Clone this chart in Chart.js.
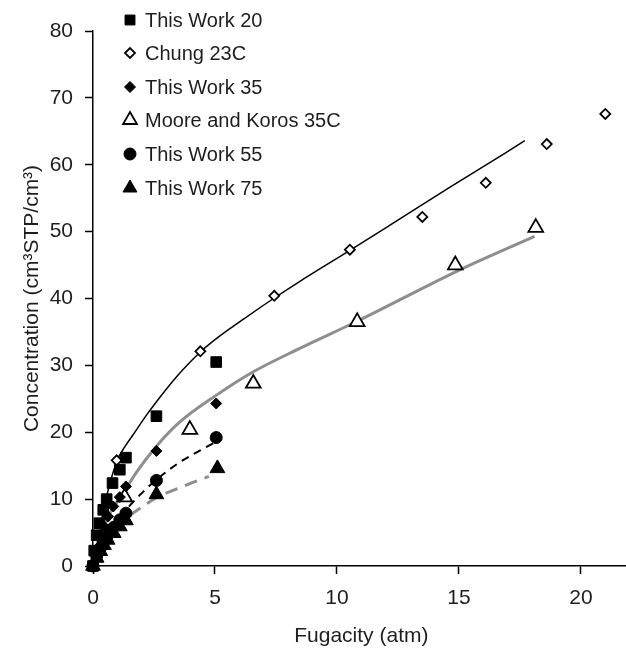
<!DOCTYPE html>
<html>
<head>
<meta charset="utf-8">
<script src="https://cdn.jsdelivr.net/npm/chart.js@4.4.1/dist/chart.umd.min.js"></script>
<style>
  html, body { margin: 0; padding: 0; background: #fff; overflow: hidden; width: 626px; height: 653px; }
  canvas { display: block; }
</style>
</head>
<body>
<canvas id="c" width="640" height="653"></canvas>
<script>
// ---- Data ----
const xTicks = [0, 5, 10, 15, 20];
const yTicks = [0, 10, 20, 30, 40, 50, 60, 70, 80];

const tw20X = [0, 0.05, 0.15, 0.26, 0.42, 0.56, 0.80, 1.10, 1.35, 2.6, 5.05];
const tw20Y = [0, 2.3, 4.6, 6.4, 8.4, 10.0, 12.4, 14.4, 16.2, 22.4, 30.5];

const chungX = [0.97, 4.4, 7.43, 10.53, 13.5, 16.1, 18.6, 21.0];
const chungY = [15.8, 32.1, 40.4, 47.3, 52.2, 57.3, 63.1, 67.6];

const tw35X = [0, 0.15, 0.31, 0.46, 0.62, 0.83, 1.10, 1.35, 2.6, 5.05];
const tw35Y = [0, 2.4, 4.4, 5.9, 7.4, 8.9, 10.3, 11.9, 17.2, 24.3];

const mooreX = [1.3, 3.97, 6.57, 10.83, 14.85, 18.15];
const mooreY = [10.3, 20.4, 27.3, 36.5, 45.0, 50.6];

const tw55X = [0, 0.15, 0.30, 0.45, 0.60, 0.85, 1.10, 1.35, 2.6, 5.05];
const tw55Y = [0, 1.5, 2.7, 3.7, 4.6, 5.8, 6.9, 7.9, 12.8, 19.2];

const tw75X = [0, 0.15, 0.30, 0.45, 0.60, 0.85, 1.10, 1.35, 2.6, 5.1];
const tw75Y = [0, 1.2, 2.2, 3.1, 3.9, 4.9, 5.9, 6.8, 10.7, 14.6];

// fitted curves
const fitChungX = [0, 0.5, 0.97, 1.3, 1.6, 2.2, 2.8, 3.4, 4.4, 5.2, 6.2, 7.4, 8.45, 10.53, 12.53, 14.57, 16.88, 17.7];
const fitChungY = [0, 9.5, 15.6, 17.8, 19.4, 22.6, 25.5, 28.2, 32.0, 34.4, 37.0, 40.0, 42.5, 47.2, 51.8, 56.5, 61.7, 63.6];

const fit35X = [0, 0.56, 1.24, 1.78, 2.6, 3.55, 5.0, 6.5, 8.45, 10.83, 15.1, 18.1];
const fit35Y = [0, 6.9, 10.9, 14.0, 17.9, 21.5, 25.4, 28.9, 32.5, 36.6, 44.4, 49.3];

const fit55X = [0, 0.3, 0.6, 1.0, 1.4, 2.0, 2.6, 3.55, 4.95];
const fit55Y = [0, 2.8, 4.8, 6.9, 8.6, 10.9, 12.9, 15.5, 18.4];

const fit75X = [0, 0.3, 0.7, 1.37, 2.0, 2.6, 3.9, 4.75];
const fit75Y = [0, 2.3, 4.4, 7.1, 8.8, 10.2, 12.2, 13.4];

const legendLabels = ['This Work 20', 'Chung 23C', 'This Work 35', 'Moore and Koros 35C', 'This Work 55', 'This Work 75'];

// ---- helpers ----
const pts = (xs, ys) => xs.map((x, i) => ({ x: x, y: ys[i] }));
const FONT = "'Liberation Sans', Arial, Helvetica, sans-serif";
const TXT = '#1e1e1e';

function markerDS(label, xs, ys, style, radius, filled) {
  return {
    label: label,
    data: pts(xs, ys),
    showLine: false,
    pointStyle: style,
    pointRadius: radius,
    pointHoverRadius: radius,
    pointBackgroundColor: filled ? '#000' : '#fff',
    pointBorderColor: '#000',
    pointBorderWidth: filled ? 1 : 1.8,
    order: 0,
    clip: false
  };
}
function lineDS(label, xs, ys, color, width, dash) {
  return {
    label: label,
    data: pts(xs, ys),
    showLine: true,
    pointRadius: 0,
    pointHoverRadius: 0,
    borderColor: color,
    borderWidth: width,
    borderDash: dash,
    cubicInterpolationMode: 'monotone',
    fill: false,
    order: 10,
    clip: false
  };
}

const markerSets = [
  markerDS(legendLabels[0], tw20X, tw20Y, 'rect', 7.5, true),
  markerDS(legendLabels[1], chungX, chungY, 'rectRot', 5, false),
  markerDS(legendLabels[2], tw35X, tw35Y, 'rectRot', 5.5, true),
  markerDS(legendLabels[3], mooreX, mooreY, 'triangle', 8.5, false),
  markerDS(legendLabels[4], tw55X, tw55Y, 'circle', 6, true),
  markerDS(legendLabels[5], tw75X, tw75Y, 'triangle', 8.5, true)
];

const lineSets = [
  lineDS('fit 23C', fitChungX, fitChungY, '#000', 1.5, []),
  lineDS('fit 35', fit35X, fit35Y, '#8e8e8e', 3, []),
  lineDS('fit 55', fit55X, fit55Y, '#000', 2, [8, 6]),
  lineDS('fit 75', fit75X, fit75Y, '#8e8e8e', 3, [13, 8])
];

// custom legend placed like the reference (upper left, partly above the plot)
const legendPlugin = {
  id: 'refLegend',
  afterDraw(chart) {
    const ctx = chart.ctx;
    const rows = [20, 53, 87, 120, 154, 188];
    ctx.save();
    markerSets.forEach((ds, i) => {
      const y = rows[i];
      ctx.fillStyle = ds.pointBackgroundColor;
      ctx.strokeStyle = ds.pointBorderColor;
      ctx.lineWidth = ds.pointBorderWidth;
      let r = ds.pointRadius;
      if (ds.pointStyle === 'rect') r = 7;
      if (ds.pointStyle === 'triangle') r = 8;
      Chart.helpers.drawPoint(ctx, { pointStyle: ds.pointStyle, radius: r, borderWidth: ds.pointBorderWidth, rotation: 0 }, 130, y);
      ctx.fillStyle = TXT;
      ctx.font = '20px ' + FONT;
      ctx.textBaseline = 'middle';
      ctx.textAlign = 'left';
      ctx.fillText(ds.label, 145, y + 1);
    });
    ctx.restore();
  }
};

new Chart(document.getElementById('c'), {
  type: 'scatter',
  data: { datasets: [...markerSets, ...lineSets] },
  options: {
    responsive: false,
    animation: false,
    devicePixelRatio: 1,
    layout: { padding: { left: 0, top: 31, right: 8, bottom: 0 } },
    plugins: { legend: { display: false }, tooltip: { enabled: false } },
    scales: {
      x: {
        type: 'linear',
        min: 0, max: 22,
        afterFit: (s) => { s.height = 87; },
        afterBuildTicks: (s) => { s.ticks = xTicks.map(v => ({ value: v })); },
        ticks: { includeBounds: false, padding: 12, color: TXT, font: { family: FONT, size: 21 } },
        grid: { display: true, drawOnChartArea: false, drawTicks: true, tickLength: 8, tickColor: '#000', tickWidth: 1.5 },
        border: { display: true, color: '#000', width: 1.5 },
        title: { display: true, text: 'Fugacity (atm)', color: TXT, font: { family: FONT, size: 21 }, padding: { top: 0, bottom: 4 } }
      },
      y: {
        type: 'linear',
        min: 0, max: 80,
        afterFit: (s) => { s.width = 93; },
        afterBuildTicks: (s) => { s.ticks = yTicks.map(v => ({ value: v })); },
        ticks: { padding: 12, color: TXT, font: { family: FONT, size: 21 } },
        grid: { display: true, drawOnChartArea: false, drawTicks: true, tickLength: 8, tickColor: '#000', tickWidth: 1.5 },
        border: { display: true, color: '#000', width: 1.5 },
        title: { display: true, text: 'Concentration (cm³STP/cm³)', color: TXT, font: { family: FONT, size: 21 }, padding: { top: 20, bottom: 0 } }
      }
    }
  },
  plugins: [legendPlugin]
});
</script>
</body>
</html>
